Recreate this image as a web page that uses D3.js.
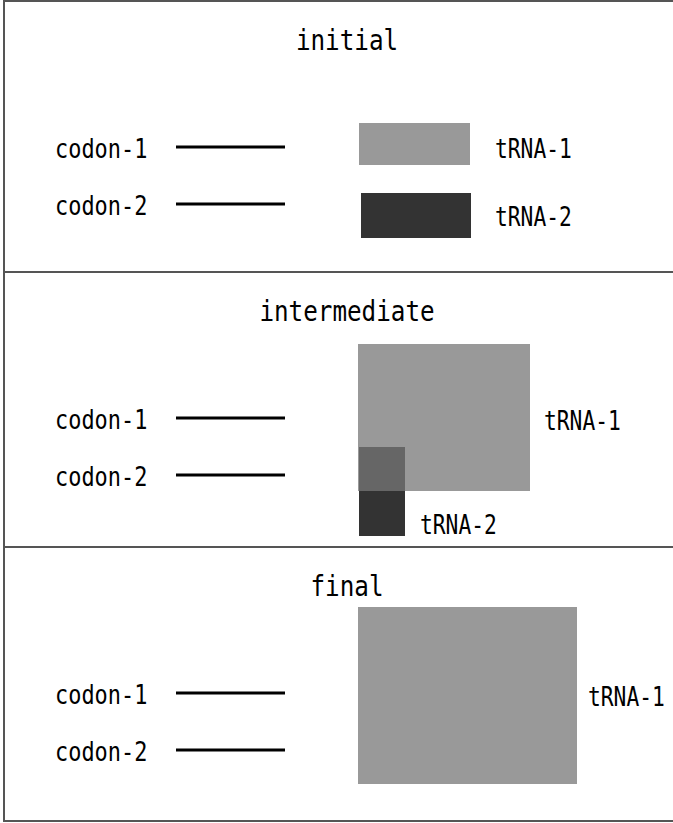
<!DOCTYPE html>
<html>
<head>
<meta charset="utf-8">
<script src="https://cdn.jsdelivr.net/npm/d3@7"></script>
<style>
  html, body { margin: 0; padding: 0; background: #fff; overflow: hidden; }
  text { font-family: "DejaVu Sans Mono", monospace; fill: #000; }
</style>
</head>
<body>
<svg></svg>
<script>
// stages shown top to bottom
var panels = ["initial", "intermediate", "final"];
var panelEdges = [1, 272, 547, 821];

var codons = ["codon-1", "codon-2"];
var codonLevel = [146, 203];
var codonSpan = [176, 285];

var trnas = ["tRNA-1", "tRNA-2"];
// [x0, x1, y0, y1] per stage, null when the tRNA is gone
var trna1Box = [[359, 470, 122, 164], [358, 530, 72, 219], [358, 577, 60, 237]];
var trna2Box = [[361, 471, 192, 237], [359, 405, 175, 264], null];

var width = 673, height = 823;
var colors = { "tRNA-1": "#999999", "tRNA-2": "#333333", overlap: "#666666" };
// where each tRNA label sits: offset from box right edge, baseline
var labelLayout = [
  [[25, 157], [24, 225]],
  [[14, 158], [15, 262]],
  [[11, 159], null]
];

var svg = d3.select("svg")
    .attr("width", width)
    .attr("height", height);

var x = d3.scaleLinear().domain([0, width]).range([0, width]);

function charText(sel, size, charW) {
  sel.style("font-size", size + "px")
    .attr("textLength", function() { return this.textContent.length * charW; })
    .attr("lengthAdjust", "spacingAndGlyphs");
}

panels.forEach(function(name, i) {
  var top = panelEdges[i], bottom = panelEdges[i + 1];
  var y = d3.scaleLinear().domain([0, bottom - top]).range([top, bottom]);
  var g = svg.append("g").attr("class", "panel");

  // title
  g.append("text")
      .datum(name)
      .attr("x", x(347))
      .attr("y", y(49))
      .attr("text-anchor", "middle")
      .text(function(d) { return d; })
      .call(charText, 28, 14.6);

  // codon lines + labels
  g.selectAll("line.codon")
    .data(codons)
    .enter().append("line")
      .attr("class", "codon")
      .attr("x1", x(codonSpan[0]))
      .attr("x2", x(codonSpan[1]))
      .attr("y1", function(d, k) { return y(codonLevel[k]); })
      .attr("y2", function(d, k) { return y(codonLevel[k]); })
      .attr("stroke", "#000")
      .attr("stroke-width", 3);

  g.selectAll("text.codon")
    .data(codons)
    .enter().append("text")
      .attr("class", "codon")
      .attr("x", x(55))
      .attr("y", function(d, k) { return y(codonLevel[k] + 11); })
      .text(function(d) { return d; })
      .call(charText, 26, 13.2);

  var boxes = [trna1Box[i], trna2Box[i]];
  var items = trnas.map(function(t, k) { return { name: t, box: boxes[k], lab: labelLayout[i][k] }; })
    .filter(function(d) { return d.box; });

  // darker tRNA underneath so the lighter one covers it
  var order = items.slice().reverse();
  g.selectAll("rect.trna")
    .data(order)
    .enter().append("rect")
      .attr("class", "trna")
      .attr("x", function(d) { return x(d.box[0]); })
      .attr("y", function(d) { return y(d.box[2]); })
      .attr("width", function(d) { return x(d.box[1]) - x(d.box[0]); })
      .attr("height", function(d) { return y(d.box[3]) - y(d.box[2]); })
      .attr("fill", function(d) { return colors[d.name]; });

  // overlapping area
  if (items.length === 2) {
    var a = items[0].box, b = items[1].box;
    var ov = [Math.max(a[0], b[0]), Math.min(a[1], b[1]), Math.max(a[2], b[2]), Math.min(a[3], b[3])];
    if (ov[1] > ov[0] && ov[3] > ov[2]) {
      g.append("rect")
          .attr("x", x(ov[0]))
          .attr("y", y(ov[2]))
          .attr("width", x(ov[1]) - x(ov[0]))
          .attr("height", y(ov[3]) - y(ov[2]))
          .attr("fill", colors.overlap);
    }
  }

  g.selectAll("text.trna")
    .data(items)
    .enter().append("text")
      .attr("class", "trna")
      .attr("x", function(d) { return x(d.box[1] + d.lab[0]); })
      .attr("y", function(d) { return y(d.lab[1]); })
      .text(function(d) { return d.name; })
      .call(charText, 26, 12.8);
});

// frame and dividers
svg.append("rect")
    .attr("x", 4)
    .attr("y", panelEdges[0])
    .attr("width", width + 20)
    .attr("height", panelEdges[3] - panelEdges[0])
    .attr("fill", "none")
    .attr("stroke", "#555")
    .attr("stroke-width", 2);

svg.selectAll("line.divider")
  .data(panelEdges.slice(1, 3))
  .enter().append("line")
    .attr("class", "divider")
    .attr("x1", 4)
    .attr("x2", width)
    .attr("y1", function(d) { return d; })
    .attr("y2", function(d) { return d; })
    .attr("stroke", "#555")
    .attr("stroke-width", 2);
</script>
</body>
</html>
